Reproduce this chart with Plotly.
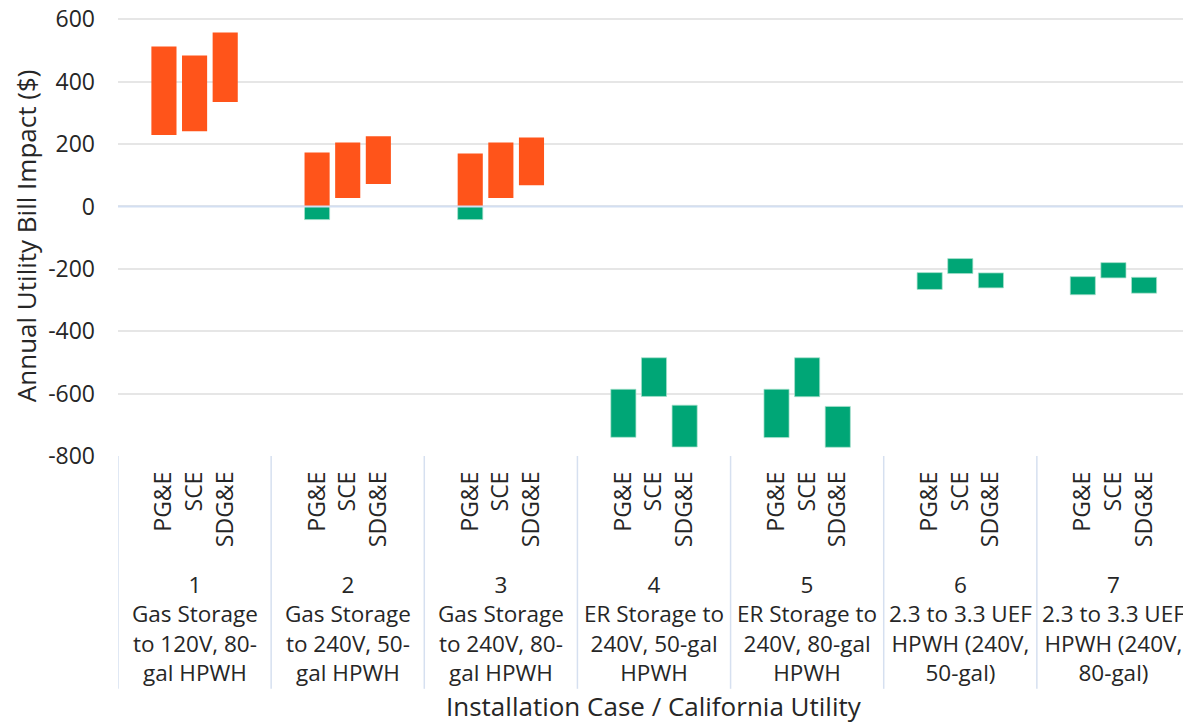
import plotly.graph_objects as go

cases = ["1", "2", "3", "4", "5", "6", "7"]
case_labels = [
    "Gas Storage<br>to 120V, 80-<br>gal HPWH",
    "Gas Storage<br>to 240V, 50-<br>gal HPWH",
    "Gas Storage<br>to 240V, 80-<br>gal HPWH",
    "ER Storage to<br>240V, 50-gal<br>HPWH",
    "ER Storage to<br>240V, 80-gal<br>HPWH",
    "2.3 to 3.3 UEF<br>HPWH (240V,<br>50-gal)",
    "2.3 to 3.3 UEF<br>HPWH (240V,<br>80-gal)",
]
utilities = ["PG&E", "SCE", "SDG&E"]

# Range of annual bill impact ($) per case, per utility: low and high ends
low = [
    [229, 241, 335],
    [-42, 27, 72],
    [-42, 27, 68],
    [-740, -609, -771],
    [-741, -610, -772],
    [-266, -215, -261],
    [-283, -229, -278],
]
high = [
    [513, 484, 558],
    [173, 205, 225],
    [170, 205, 221],
    [-586, -485, -637],
    [-586, -485, -641],
    [-212, -167, -213],
    [-225, -180, -227],
]
y_ticks = [600, 400, 200, 0, -200, -400, -600, -800]
y_tick_text = ["600", "400", "200", "0", "-200", "-400", "-600", "-800"]

ORANGE = "#FF541A"
GREEN = "#00A676"
TXT = "#262626"
FONT = "Open Sans"

OFF = 8  # page body margin
W, H = 1191 - OFF, 723 - OFF

Y_MIN, Y_MAX = -800, 630
# page pixel positions of y=600 and y=-800
p600, pm800 = 19, 456
scale = (pm800 - p600) / 1400.0
plot_bot = pm800 - OFF
plot_top = p600 - OFF - (Y_MAX - 600) * scale
ph = plot_bot - plot_top
pw = 1190 - 118

GW = 5.0  # group width in x units
xs, xlabels = [], []
pos_base, pos_len, neg_base, neg_len = [], [], [], []
for i, c in enumerate(cases):
    for j, u in enumerate(utilities):
        x = i * GW + GW / 2 + (j - 1) * 1.0
        xs.append(x)
        xlabels.append(u)
        lo, hi = low[i][j], high[i][j]
        plo, phi = max(lo, 0), max(hi, 0)
        nlo, nhi = min(lo, 0), min(hi, 0)
        pos_base.append(plo)
        pos_len.append(phi - plo if phi > plo else None)
        neg_base.append(nlo)
        neg_len.append(nhi - nlo if nhi > nlo else None)

fig = go.Figure()
fig.add_trace(go.Bar(x=xs, y=pos_len, base=pos_base, width=0.82,
                     marker=dict(color=ORANGE, line=dict(width=0)),
                     name="Increase", showlegend=False))
fig.add_trace(go.Bar(x=xs, y=neg_len, base=neg_base, width=0.82,
                     marker=dict(color=GREEN, line=dict(width=0.8, color="rgba(170,225,205,0.9)")),
                     name="Decrease", showlegend=False))

def py(pixel):
    return (plot_bot - (pixel - OFF)) / ph

def px(pixel):
    return (pixel - 118) / pw

# zero line above bars
fig.add_shape(type="line", xref="paper", yref="y", x0=0, x1=1, y0=0, y1=0,
              line=dict(color="#D3DFF2", width=2), layer="above")

# group separators
for k in range(len(cases) + 1):
    fig.add_shape(type="line", xref="x", yref="paper",
                  x0=k * GW, x1=k * GW, y0=py(456), y1=py(689),
                  line=dict(color="#D6E0F0", width=1.5))

for i, c in enumerate(cases):
    fig.add_annotation(x=i * GW + GW / 2, xref="x", yref="paper", y=py(567),
                       yanchor="top", xanchor="center", showarrow=False,
                       text=c + "<br>" + case_labels[i],
                       font=dict(family=FONT, size=22.5, color=TXT))

fig.add_annotation(xref="paper", yref="paper", x=px(654), y=py(706),
                   yanchor="middle", xanchor="center",
                   text="Installation Case / California Utility", showarrow=False,
                   font=dict(family=FONT, size=26, color=TXT))

fig.add_annotation(xref="paper", yref="paper", x=px(26), y=py(236),
                   xanchor="center", yanchor="middle", textangle=-90,
                   text="Annual Utility Bill Impact ($)", showarrow=False,
                   font=dict(family=FONT, size=26, color=TXT))

fig.update_layout(
    width=W, height=H,
    margin=dict(l=118 - OFF, r=W - (1190 - OFF), t=plot_top, b=H - plot_bot),
    plot_bgcolor="white", paper_bgcolor="white",
    barmode="overlay",
    font=dict(family=FONT, size=23, color=TXT),
    xaxis=dict(range=[0, GW * len(cases)], tickmode="array", tickvals=xs, ticktext=xlabels,
               tickangle=-90, showgrid=False, zeroline=False, showline=False,
               automargin=False,
               ticks="", ticklabelstandoff=10, tickfont=dict(size=23)),
    yaxis=dict(range=[Y_MIN, Y_MAX], tickmode="array", tickvals=y_ticks, ticktext=y_tick_text,
               showgrid=True, gridcolor="#E6E6E6", gridwidth=1.5,
               zeroline=False, ticklabeloverflow="allow", automargin=False,
               ticks="", ticklabelstandoff=22, tickfont=dict(size=23)),
)

fig.write_html("out.html")
